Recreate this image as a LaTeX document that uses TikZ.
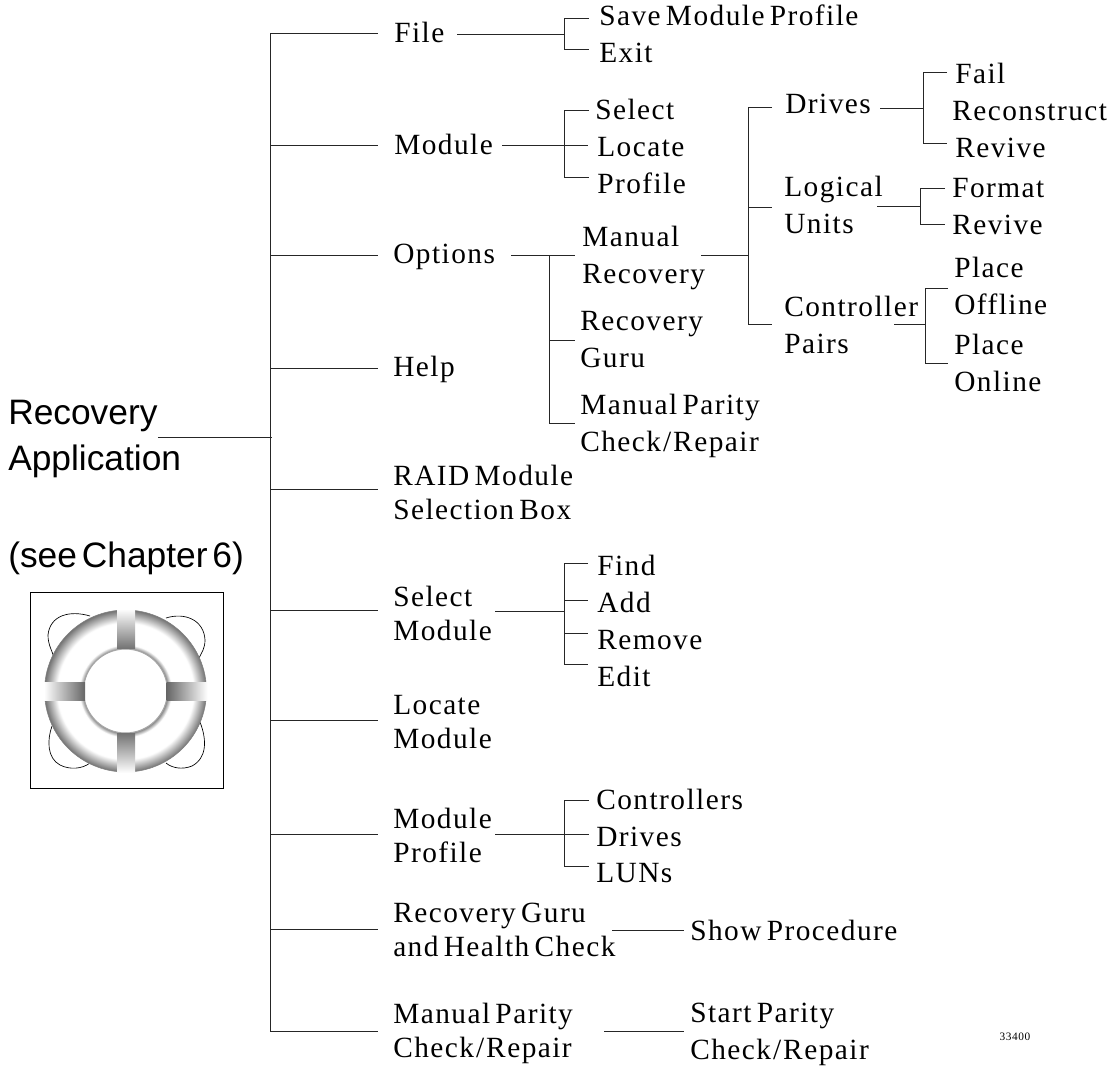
\documentclass[tikz,border=0pt]{standalone}
\usepackage{fontspec}
\setmainfont[LetterSpace=5,WordSpace=0.6]{Liberation Serif}
\newfontfamily\headfont[WordSpace=0.5]{Liberation Sans}
\usetikzlibrary{calc}
\newcommand{\ckrep}{Check\kern1.5pt/\kern1.5pt Repair}
\pgfdeclareradialshading{ringshade}{\pgfpoint{0bp}{0bp}}{%
    color(0bp)=(black!45); color(13bp)=(black!45); color(14.3bp)=(white);
    color(21bp)=(white); color(25bp)=(black!55); color(50bp)=(black!55)}
\tikzset{
    menu/.style={anchor=west,inner sep=0pt,execute at begin node={\rule{0pt}{\dimexpr\ht\strutbox+#1\relax}},execute at end node=\strut,font=\fontsize{22}{27.7}\selectfont,align=left},
    menu/.default=3.75pt,
    menutight/.style={menu,font=\fontsize{22}{25.5}\selectfont},
    head/.style={menu=4.5pt,font=\headfont\fontsize{26.5}{34}\selectfont},
    wire/.style={line width=0.75pt,black!85},
    lobe/.style={line width=0.5pt,black},
    band/.style={draw=none},
}
\begin{document}
\begin{tikzpicture}[x=0.75pt,y=0.75pt,yscale=-1,xscale=1]
    \useasboundingbox (0,0) rectangle (1120,1067);
    % Text Node
    \node [head] (recovery) at (8,412) {Recovery};
    \node [head] (application) at (8,458) {Application};
    \node [head] (chapter) at (8,555) {(see Chapter 6)};
    % first column
    \node [menu] (file) at (394,33) {File};
    \node [menu] (module) at (394,145) {Module};
    \node [menu] (options) at (393,254) {Options};
    \node [menu] (help) at (393,367) {Help};
    \node [menutight] (raid) at (393,497) {RAID Module\\Selection Box};
    \node [menutight] (selmod) at (393,618) {Select\\Module};
    \node [menutight] (locmod) at (393,727) {Locate\\Module};
    \node [menutight] (modprof) at (393,840) {Module\\Profile};
    \node [menutight] (guruhealth) at (393,935) {Recovery Guru\\and Health Check};
    \node [menutight] (parity) at (393,1035) {Manual Parity\\\ckrep};
    % second column
    \node [menu] (savemod) at (599,16) {Save Module Profile};
    \node [menu] (exit) at (599,53) {Exit};
    \node [menu] (select) at (595,110) {Select};
    \node [menu] (locate) at (597,147) {Locate};
    \node [menu] (profile) at (597,184) {Profile};
    \node [menu] (manrec) at (582,260.5) {Manual\\Recovery};
    \node [menu] (recguru) at (580,344.5) {Recovery\\Guru};
    \node [menu] (manpar) at (580,428.5) {Manual Parity\\\ckrep};
    \node [menu] (find) at (597,566) {Find};
    \node [menu] (add) at (597,603) {Add};
    \node [menu] (remove) at (597,640) {Remove};
    \node [menu] (edit) at (597,677) {Edit};
    \node [menu] (controllers) at (596,800) {Controllers};
    \node [menu] (drivesb) at (596,837) {Drives};
    \node [menu] (luns) at (596,873) {LUNs};
    \node [menu] (showproc) at (690,931) {Show Procedure};
    \node [menu] (startpar) at (690,1036.5) {Start Parity\\\ckrep};
    % third column
    \node [menu] (drives) at (785,104) {Drives};
    \node [menu] (logical) at (784,210.5) {Logical\\Units};
    \node [menu] (ctrlpairs) at (784,330.5) {Controller\\Pairs};
    % fourth column
    \node [menu] (fail) at (955,74) {Fail};
    \node [menu] (reconstruct) at (952,111) {Reconstruct};
    \node [menu] (revivea) at (955,148) {Revive};
    \node [menu] (format) at (952,188) {Format};
    \node [menu] (reviveb) at (952,225) {Revive};
    \node [menu] (offline) at (954,291) {Place\\Offline};
    \node [menu] (online) at (954,368) {Place\\Online};
    % Text Node
    \node [anchor=center,inner sep=0pt,font=\fontsize{8.5}{10}\selectfont] (number) at (1015,1037) {33400};
    % Trunk
    \coordinate (trunktop) at (270,33);
    \coordinate (trunkbot) at (270,1031);
    \draw [wire] (trunktop) -- (trunkbot);
    \draw [wire] ($(recovery.east)+(0,25)$) -- (272,437);
    \draw [wire] (trunktop) -- ($(file.west)+(-16,0)$);
    \draw [wire] (270,145) -- ($(module.west)+(-16,0)$);
    \draw [wire] (270,255) -- ($(options.west)+(-15,1)$);
    \draw [wire] (270,368) -- ($(help.west)+(-15,1)$);
    \draw [wire] (270,489) -- ($(raid.west)+(-15,-8)$);
    \draw [wire] (270,610) -- ($(selmod.west)+(-15,-8)$);
    \draw [wire] (270,720) -- ($(locmod.west)+(-15,-7)$);
    \draw [wire] (270,834) -- ($(modprof.west)+(-15,-6)$);
    \draw [wire] (270,929) -- ($(guruhealth.west)+(-15,-6)$);
    \draw [wire] (trunkbot) -- ($(parity.west)+(-15,-4)$);
    % File
    \draw [wire] (457,34) -- (564.5,34);
    \draw [wire] ($(savemod.west)+(-10,2.5)$) -- (564.5,18.5) -- (564.5,49) -- ($(exit.west)+(-10,-4)$);
    % Module
    \draw [wire] (502,145) -- ($(locate.west)+(-9,-2)$);
    \draw [wire] ($(select.west)+(-6,0.5)$) -- (564.5,110.5) -- (564.5,177) -- ($(profile.west)+(-8,-7)$);
    % Options
    \draw [wire] (511,255.5) -- ($(manrec.west)+(-7,-5)$);
    \draw [wire] (549,255.5) -- (549,423) -- ($(manpar.west)+(-5,-5.5)$);
    \draw [wire] (549,340.5) -- ($(recguru.west)+(-5,-4)$);
    % Manual Recovery
    \draw [wire] (701,255) -- (748,255);
    \draw [wire] ($(drives.west)+(-13,3)$) -- (748,107) -- (748,324) -- ($(ctrlpairs.west)+(-12,-6.5)$);
    \draw [wire] (748,207) -- ($(logical.west)+(-12,-3.5)$);
    % Drives
    \draw [wire] (880,108) -- (923,108);
    \draw [wire] ($(fail.west)+(-8,-2)$) -- (923,72) -- (923,143) -- ($(revivea.west)+(-8,-5)$);
    % Logical Units
    \draw [wire] (877,206.5) -- (920,206.5);
    \draw [wire] ($(format.west)+(-7,0)$) -- (920,188) -- (920,224) -- ($(reviveb.west)+(-7,-1)$);
    % Controller Pairs
    \draw [wire] (894,324) -- (925,324);
    \draw [wire] ($(offline.west)+(-6,-3)$) -- (925,288) -- (925,363) -- ($(online.west)+(-6,-5)$);
    % Select Module
    \draw [wire] (495,611) -- (564.5,611);
    \draw [wire] ($(find.west)+(-9,-3)$) -- (564.5,563) -- (564.5,664) -- ($(edit.west)+(-9,-13)$);
    \draw [wire] (564.5,600) -- ($(add.west)+(-9,-3)$);
    \draw [wire] (564.5,633) -- ($(remove.west)+(-9,-7)$);
    % Module Profile
    \draw [wire] (495,834.5) -- ($(drivesb.west)+(-7,-2.5)$);
    \draw [wire] ($(controllers.west)+(-7,0.5)$) -- (564.5,800.5) -- (564.5,866) -- ($(luns.west)+(-7,-7)$);
    % Guru and parity
    \draw [wire] (612,930) -- ($(showproc.west)+(-6,-1)$);
    \draw [wire] (604,1031) -- ($(startpar.west)+(-6,-5.5)$);
    % Ring box
    \draw [line width=0.6pt] (30,592) rectangle (223,788);
    \draw [lobe] (90,616) .. controls (70,610) and (50,615) .. (48,635) .. controls (48,645) and (52,650) .. (54,658);
    \draw [lobe] (166,618) .. controls (185,612) and (204,620) .. (205,640) .. controls (205,648) and (202,652) .. (199,658);
    \draw [lobe] (52,726) .. controls (47,740) and (47,758) .. (60,765) .. controls (70,770) and (82,769) .. (90,763);
    \draw [lobe] (200,722) .. controls (207,740) and (207,758) .. (192,766) .. controls (182,770) and (172,768) .. (166,763);
    \fill [white] (125.5,691) circle [radius=81];
    \shade [even odd rule,shading=ringshade] (125.5,691) circle [radius=81] (125.5,691) circle [radius=42];
    \draw [black!35,line width=0.8pt] (125.5,691) circle [radius=42];
    \draw [black!50,line width=0.4pt] (125.5,691) circle [radius=81];
    \shade [band,top color=white,bottom color=black!55] (117,609) rectangle (135,648.5);
    \shade [band,top color=black!55,bottom color=white] (117,733) rectangle (135,773);
    \shade [band,left color=white,right color=black!60] (44,682) rectangle (85,700.5);
    \shade [band,left color=black!60,right color=white] (166.5,682) rectangle (207.5,700.5);
\end{tikzpicture}
\end{document}
